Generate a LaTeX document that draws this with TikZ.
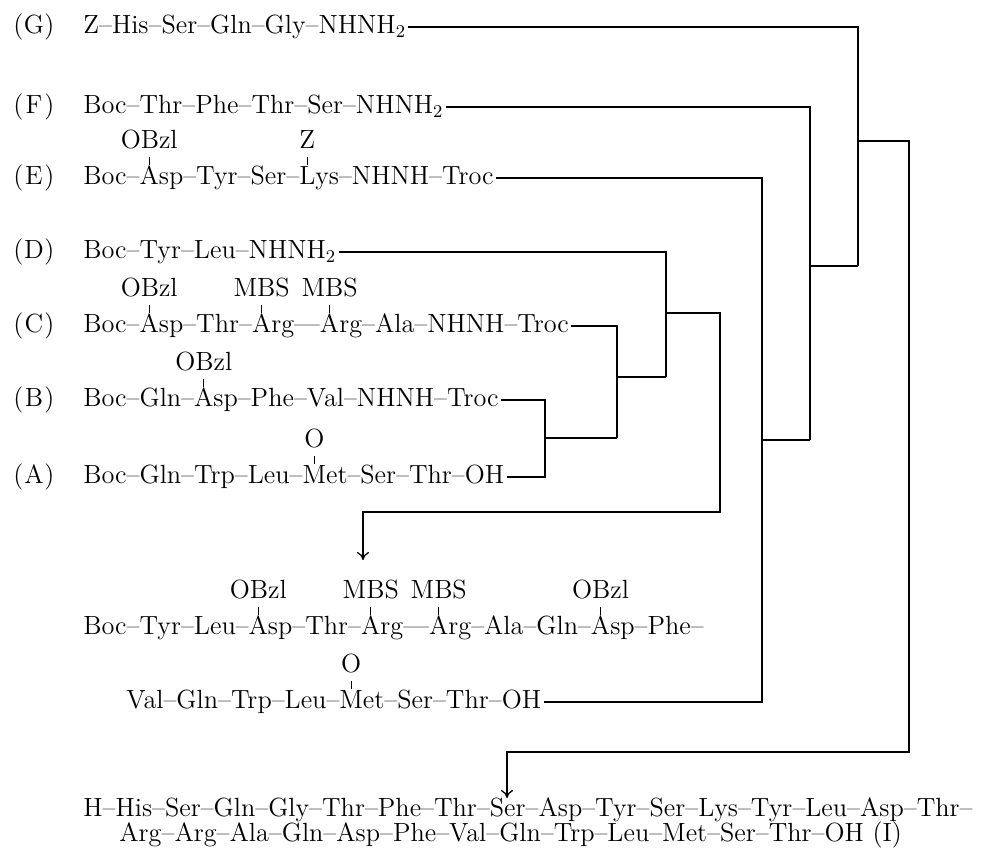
\documentclass[tikz,border=0pt]{standalone}
\usetikzlibrary{arrows.meta}

% protecting group set above the first letter of a residue
\newcommand{\side}[3]{\ooalign{#2\cr\hidewidth\raisebox{1.38em}{#1}\hidewidth\cr\hidewidth\rule[0.76em]{0.5pt}{0.3em}\hidewidth\cr}#3}
\newcommand{\cpd}[1]{(\makebox[0.8em]{#1})}

\begin{document}
\begin{tikzpicture}[x=0.5pt,y=-0.5pt,
seq/.style={anchor=west,inner xsep=1pt,inner ysep=0pt,text height=9.2pt,text depth=2.63pt,font=\fontsize{13.15}{15.5}\selectfont},
lbl/.style={seq},
link/.style={line width=0.65pt},
arrow/.style={link,-{To[length=4pt,width=6pt]}}
]
\useasboundingbox (0,0) rectangle (986,848);
% fragments
\node[lbl] (lG) at (11,27) {\cpd{G}};
\node[seq] (G) at (81,27) {Z--His--Ser--Gln--Gly--NHNH$_2$};
\node[lbl] (lF) at (11,107) {\cpd{F}};
\node[seq] (F) at (81,107) {Boc--Thr--Phe--Thr--Ser--NHNH$_2$};
\node[lbl] (lE) at (11,178) {\cpd{E}};
\node[seq] (E) at (81,178) {Boc--\side{OBzl}{A}{sp}--Tyr--Ser--\side{Z}{L}{ys}--NHNH--Troc};
\node[lbl] (lD) at (11,252) {\cpd{D}};
\node[seq] (D) at (81,252) {Boc--Tyr--Leu--NHNH$_2$};
\node[lbl] (lC) at (11,326) {\cpd{C}};
\node[seq] (C) at (81,326) {Boc--\side{OBzl}{A}{sp}--Thr--\side{MBS}{A}{rg}---\side{MBS}{A}{rg}--Ala--NHNH--Troc};
\node[lbl] (lB) at (11,400) {\cpd{B}};
\node[seq] (B) at (81,400) {Boc--Gln--\side{OBzl}{A}{sp}--Phe--Val--NHNH--Troc};
\node[lbl] (lA) at (11,477) {\cpd{A}};
\node[seq] (A) at (81,477) {Boc--Gln--Trp--Leu--\side{O}{M}{et}--Ser--Thr--OH};
% intermediate and final peptide
\node[seq] (P1a) at (81,628) {Boc--Tyr--Leu--\side{OBzl}{A}{sp}--Thr--\side{MBS}{A}{rg}---\side{MBS}{A}{rg}--Ala--Gln--\side{OBzl}{A}{sp}--Phe--};
\node[seq] (P1b) at (124,702) {Val--Gln--Trp--Leu--\side{O}{M}{et}--Ser--Thr--OH};
\node[seq] (P2a) at (81,810) {H--His--Ser--Gln--Gly--Thr--Phe--Thr--Ser--Asp--Tyr--Ser--Lys--Tyr--Leu--Asp--Thr--};
\node[seq] (P2b) at (117,835) {Arg--Arg--Ala--Gln--Asp--Phe--Val--Gln--Trp--Leu--Met--Ser--Thr--OH (I)};
% junctions
\coordinate (ab) at (545,438);
\coordinate (cab) at (617,377);
\coordinate (dcab) at (666,313);
\coordinate (p1) at (720,512);
\coordinate (a1) at (363,512);
\coordinate (a1tip) at (363,560);
\coordinate (ep) at (762,440);
\coordinate (fep) at (810,266);
\coordinate (gfep) at (858,141);
\coordinate (p2) at (909,752);
\coordinate (a2) at (507,752);
\coordinate (a2tip) at (507,798);
% couplings
\draw[link] (B.east) -| (ab) |- (A.east);
\draw[link] (ab) -- (ab -| cab);
\draw[link] (C.east) -| (cab) -- (ab -| cab);
\draw[link] (cab) -- (cab -| dcab);
\draw[link] (D.east) -| (dcab) -- (cab -| dcab);
\draw[arrow] (dcab) -| (p1) -- (a1) -- (a1tip);
\draw[link] (E.east) -| (ep) |- (P1b.east);
\draw[link] (ep) -- (ep -| fep);
\draw[link] (F.east) -| (fep) -- (ep -| fep);
\draw[link] (fep) -- (fep -| gfep);
\draw[link] (G.east) -| (gfep) -- (fep -| gfep);
\draw[arrow] (gfep) -| (p2) -- (a2) -- (a2tip);
\end{tikzpicture}
\end{document}
